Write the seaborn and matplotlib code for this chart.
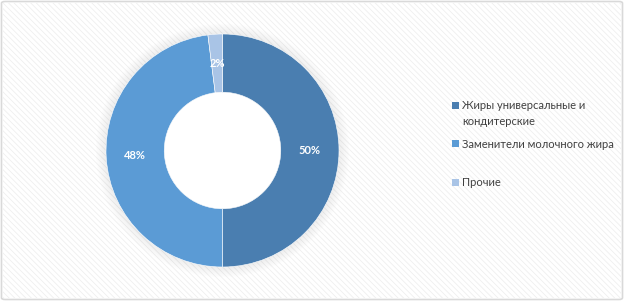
import matplotlib
matplotlib.use("Agg")
import matplotlib.pyplot as plt
import seaborn as sns
from matplotlib.patches import FancyBboxPatch, Rectangle, Circle, Patch

categories = ["Жиры универсальные и\nкондитерские", "Заменители молочного жира", "Прочие"]
values = [50, 48, 2]
labels = ["50%", "48%", "2%"]

sns.set_theme(style="white")
plt.rcParams['font.family'] = ['Lato', 'DejaVu Sans']

colors = ["#4a7eb0", "#5b9bd5", "#a9c4e6"]

W, H = 624, 301
fig = plt.figure(figsize=(W / 100, H / 100), dpi=100)
fig.patch.set_facecolor("white")

# hatched background + border
bg = FancyBboxPatch((1.5 / W, 1.5 / H), (W - 3) / W, (H - 3) / H,
                    boxstyle="round,pad=0,rounding_size=0.006",
                    transform=fig.transFigure, facecolor="white",
                    edgecolor="#d9d9d9", linewidth=1.2, zorder=-2)
fig.patches.append(bg)
plt.rcParams['hatch.linewidth'] = 0.6
hb = Rectangle((3 / W, 3 / H), (W - 6) / W, (H - 6) / H, transform=fig.transFigure,
               facecolor="none", edgecolor="#efefef", hatch="\\\\\\\\\\\\", linewidth=0, zorder=-1)
fig.patches.append(hb)

cx, cy, R = 222.5, 150.5, 116.5
pad = 1.15
ax = fig.add_axes([(cx - R * pad) / W, (H - cy - R * pad) / H, 2 * R * pad / W, 2 * R * pad / H])
ax.set_zorder(5)
ax.patch.set_alpha(0)

# soft shadow
for i in range(8):
    r = 1.0 + 0.011 * (i + 1)
    ax.add_patch(Circle((0, 0.0), r, facecolor="#000000", alpha=0.009, edgecolor="none", zorder=0))
ax.add_patch(Circle((0, 0), 0.5, facecolor="white", edgecolor="none", zorder=0.5))

wedges, texts, autotexts = ax.pie(values, colors=colors, startangle=90, counterclock=False,
                                  radius=1.0, wedgeprops=dict(width=0.5, edgecolor="white", linewidth=0.4),
                                  autopct=lambda p: "", pctdistance=0.75)
ax.set_xlim(-pad, pad)
ax.set_ylim(-pad, pad)
ax.set_aspect("equal")
ax.axis("off")
for w in wedges:
    w.set_zorder(2)
for at, lab in zip(autotexts, labels):
    at.set_text(lab)
    at.set_color("white")
    at.set_fontsize(8)
    at.set_fontweight("bold")
    at.set_zorder(3)

first_lines = [c.split("\n")[0] for c in categories]
rest_lines = ["\n".join(c.split("\n")[1:]) for c in categories]

handles = [Patch(facecolor=c, edgecolor="none") for c in colors]
leg = fig.legend(handles, first_lines, loc="upper left", bbox_to_anchor=(452 / W, 1 - 100 / H),
                 frameon=False, fontsize=8.0, labelcolor="#404040", handlelength=0.6, handleheight=0.6,
                 handletextpad=0.3, labelspacing=2.48, borderpad=0, borderaxespad=0)
leg.set_zorder(6)

fig.canvas.draw()
inv = fig.transFigure.inverted()
for t, rest in zip(leg.get_texts(), rest_lines):
    if rest:
        bb = t.get_window_extent()
        x0, y0 = inv.transform((bb.x0, bb.y0))
        fig.text(x0, y0 - 16 / H, rest, fontsize=8.0, color="#404040", va="bottom", ha="left", zorder=6)

fig.savefig("out.png", dpi=100)
